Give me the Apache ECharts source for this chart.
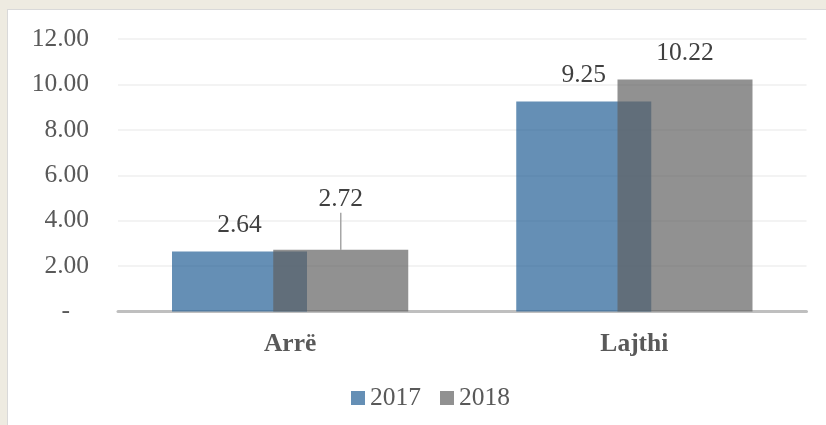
<!DOCTYPE html>
<html>
<head>
<meta charset="utf-8">
<script src="https://cdn.jsdelivr.net/npm/echarts@6/dist/echarts.min.js"></script>
<style>
  html, body { margin: 0; padding: 0; background: #eeebe1; overflow: hidden; }
  .card { position: absolute; left: 7px; top: 9px; width: 900px; height: 500px;
          background: #fff; border: 1px solid #d9d9d9; }
  #chart { position: absolute; left: 0; top: 0; width: 826px; height: 425px; }
</style>
</head>
<body>
<div class="card"></div>
<div id="chart"></div>
<script>
  // categories and values
  const categories = ['Arrë', 'Lajthi'];
  const seriesNames = ['2017', '2018'];
  const values2017 = [2.64, 9.25];
  const values2018 = [2.72, 10.22];

  const font = '"Liberation Serif", "DejaVu Serif", serif';
  const fs = 25.5;

  let myChart = echarts.init(document.getElementById('chart'));

  let option = {
    backgroundColor: 'transparent',
    textStyle: { fontFamily: font },
    grid: { left: 118, right: 19.5, top: 39, bottom: 113.5 },
    legend: {
      left: 346,
      top: 380,
      icon: 'rect',
      itemWidth: 14,
      itemHeight: 14,
      itemGap: 19,
      textStyle: { fontFamily: font, fontSize: fs, color: '#595959' },
      data: seriesNames
    },
    xAxis: {
      type: 'category',
      data: categories,
      axisTick: { show: false },
      axisLine: { lineStyle: { color: '#bfbfbf', width: 3 } },
      axisLabel: {
        margin: 20,
        fontFamily: font,
        fontSize: fs,
        fontWeight: 'bold',
        color: '#595959'
      }
    },
    yAxis: {
      type: 'value',
      min: 0,
      max: 12,
      interval: 2,
      axisLine: { show: false },
      axisTick: { show: false },
      splitLine: { lineStyle: { color: '#efefef', width: 1.5 } },
      axisLabel: {
        margin: 29,
        fontFamily: font,
        fontSize: fs,
        color: '#595959',
        formatter: function (v) { return v === 0 ? '-   ' : v.toFixed(2); }
      }
    },
    series: [
      {
        name: seriesNames[0],
        type: 'bar',
        barWidth: 135,
        barGap: '-25%',
        itemStyle: { color: 'rgba(36,96,149,0.7)' },
        label: {
          show: true,
          position: 'top',
          distance: 13,
          fontFamily: font,
          fontSize: fs,
          color: '#404040',
          formatter: p => p.value.toFixed(2)
        },
        data: values2017
      },
      {
        name: seriesNames[1],
        type: 'bar',
        barWidth: 135,
        barGap: '-25%',
        itemStyle: { color: 'rgba(96,96,96,0.69)' },
        label: {
          show: true,
          position: 'top',
          distance: 13,
          fontFamily: font,
          fontSize: fs,
          color: '#404040',
          formatter: p => p.value.toFixed(2)
        },
        // the first label was lifted above the 2017 label, with a leader line
        labelLayout: function (params) {
          if (params.dataIndex === 0) return { dy: -24 };
          return {};
        },
        labelLine: { show: false, lineStyle: { color: '#a6a6a6', width: 1.5 } },
        data: values2018.map((v, i) => i === 0
          ? { value: v, labelLine: { show: true } }
          : v)
      }
    ]
  };

  myChart.setOption(option);
</script>
</body>
</html>
